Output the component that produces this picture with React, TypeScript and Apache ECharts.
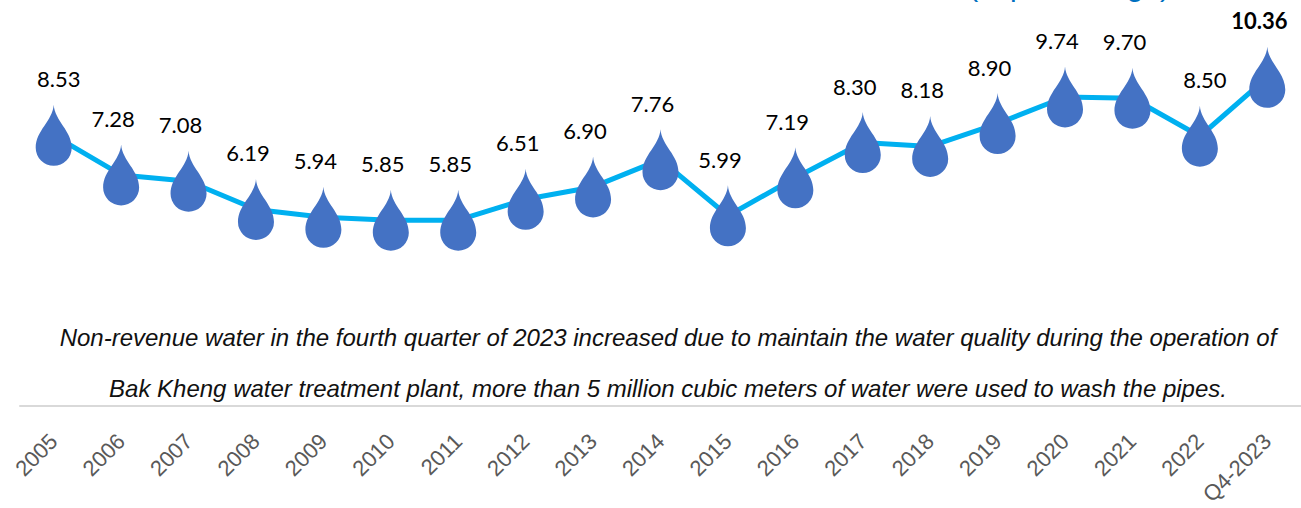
import React, { useEffect, useRef } from "react";
import * as echarts from "echarts";

const categories = ["2005", "2006", "2007", "2008", "2009", "2010", "2011", "2012", "2013", "2014", "2015", "2016", "2017", "2018", "2019", "2020", "2021", "2022", "Q4-2023"];
const values = [8.53, 7.28, 7.08, 6.19, 5.94, 5.85, 5.85, 6.51, 6.9, 7.76, 5.99, 7.19, 8.3, 8.18, 8.9, 9.74, 9.7, 8.5, 10.36];
const unitText = "(in percentage)";
const noteLine1 = "Non-revenue water in the fourth quarter of 2023 increased due to maintain the water quality during the operation of";
const noteLine2 = "Bak Kheng water treatment plant, more than 5 million cubic meters of water were used to wash the pipes.";

// label placement tweaks (style only): label shifted right of the drop for these categories
const rightLabelCats = ["2005", "2022"];

const DROP = "path://M18 0 C19 16 36 26 36 43 A18 18 0 1 1 0 43 C0 26 17 16 18 0 Z";

export default function App() {
  const ref = useRef<HTMLDivElement>(null);
  useEffect(() => {
    if (!ref.current) return;
    const chart = echarts.init(ref.current, undefined, { renderer: "svg" });
    const lastIdx = values.length - 1;
    chart.setOption({
      animation: false,
      grid: { left: 20, width: 1292, top: 0, bottom: 97, containLabel: false },
      xAxis: {
        type: "category",
        data: categories,
        boundaryGap: true,
        axisLine: { show: true, lineStyle: { color: "#d9d9d9", width: 2 } },
        axisTick: { show: false },
        axisLabel: {
          rotate: 45,
          margin: 32,
          color: "#595959",
          fontSize: 22,
          fontFamily: "Liberation Sans",
          interval: 0,
        },
      },
      yAxis: {
        type: "value",
        min: 0,
        max: 12.8,
        show: false,
        splitLine: { show: false },
      },
      graphic: [
        {
          type: "text",
          x: 1170,
          y: -15,
          style: {
            text: unitText,
            fill: "#0070C0",
            font: "30px 'Liberation Sans'",
            textAlign: "right",
            textVerticalAlign: "middle",
          },
        },
        {
          type: "text",
          x: 668,
          y: 337,
          style: {
            text: noteLine1,
            fill: "#111",
            font: "italic 24px 'Liberation Sans'",
            textAlign: "center",
            textVerticalAlign: "middle",
          },
        },
        {
          type: "text",
          x: 668,
          y: 388,
          style: {
            text: noteLine2,
            fill: "#111",
            font: "italic 24px 'Liberation Sans'",
            textAlign: "center",
            textVerticalAlign: "middle",
          },
        },
      ],
      series: [
        {
          type: "line",
          data: values.map((v, i) => {
            const label: any = {};
            if (i === lastIdx) label.fontWeight = "bold";
            if (rightLabelCats.includes(categories[i])) label.offset = [5, 0];
            return { value: v, label };
          }),
          symbol: DROP,
          symbolSize: [36, 61],
          symbolKeepAspect: false,
          lineStyle: { color: "#00B0F0", width: 5 },
          itemStyle: { color: "#4472C4" },
          label: {
            show: true,
            position: "top",
            distance: 15,
            offset: [-8, 0],
            color: "#000",
            fontSize: 22,
            fontFamily: "Lato",
            formatter: (p: any) => Number(p.value).toFixed(2),
          },
        },
      ],
    });
    return () => chart.dispose();
  }, []);
  return (
    <div
      ref={ref}
      style={{ position: "absolute", left: 0, top: 0, width: 1301, height: 508, background: "#fff" }}
    />
  );
}
